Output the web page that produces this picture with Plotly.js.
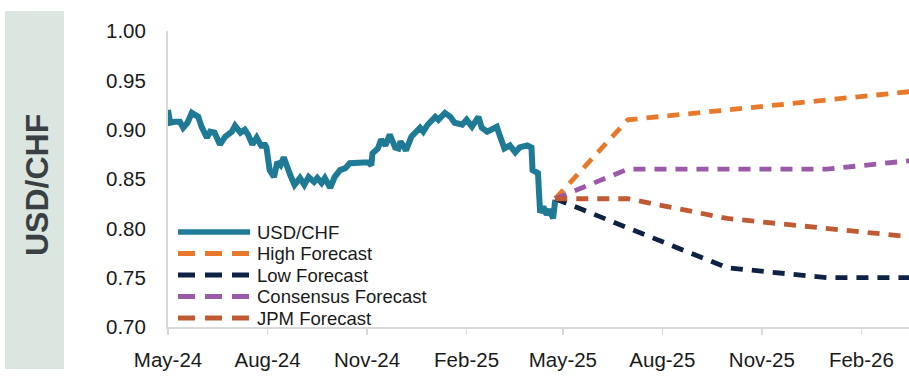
<!DOCTYPE html>
<html>
<head>
<meta charset="utf-8">
<script src="https://cdn.plot.ly/plotly-3.0.1.min.js"></script>
<style>html,body{margin:0;padding:0;background:#fff;}#chart{width:909px;height:377px;}</style>
</head>
<body>
<div id="chart"></div>
<script>
// ---- Data ----
const spotDates = ["2024-05-01","2024-05-03","2024-05-07","2024-05-12","2024-05-15","2024-05-19","2024-05-23","2024-05-29",
"2024-06-01","2024-06-06","2024-06-09","2024-06-13","2024-06-18","2024-06-23","2024-06-29",
"2024-07-02","2024-07-07","2024-07-11","2024-07-14","2024-07-18","2024-07-22","2024-07-27","2024-07-29","2024-07-31",
"2024-08-03","2024-08-07","2024-08-10","2024-08-13","2024-08-16","2024-08-19","2024-08-22","2024-08-26","2024-08-31",
"2024-09-04","2024-09-08","2024-09-13","2024-09-16","2024-09-20","2024-09-23","2024-09-28",
"2024-10-02","2024-10-07","2024-10-12","2024-10-16","2024-10-25",
"2024-11-02","2024-11-05","2024-11-06","2024-11-11","2024-11-14","2024-11-18","2024-11-22","2024-11-27","2024-11-30",
"2024-12-02","2024-12-07","2024-12-12","2024-12-16","2024-12-20","2024-12-23","2024-12-27",
"2025-01-03","2025-01-06","2025-01-12","2025-01-17","2025-01-21","2025-01-28",
"2025-02-01","2025-02-06","2025-02-12","2025-02-15","2025-02-20","2025-02-23",
"2025-03-01","2025-03-04","2025-03-08","2025-03-13","2025-03-18","2025-03-22","2025-03-29",
"2025-04-02","2025-04-03","2025-04-08","2025-04-10","2025-04-13","2025-04-16","2025-04-19","2025-04-22","2025-04-24"];
const spotValues = [0.920,0.907,0.908,0.908,0.902,0.907,0.917,0.913,
0.903,0.892,0.898,0.897,0.885,0.893,0.898,
0.904,0.897,0.900,0.895,0.885,0.892,0.882,0.886,0.882,
0.859,0.852,0.867,0.864,0.872,0.861,0.854,0.844,0.851,
0.844,0.852,0.847,0.851,0.846,0.851,0.841,
0.852,0.859,0.861,0.866,0.867,
0.867,0.864,0.876,0.881,0.890,0.884,0.895,0.882,0.881,
0.888,0.879,0.893,0.897,0.902,0.898,0.905,
0.913,0.910,0.917,0.913,0.907,0.905,
0.910,0.903,0.913,0.902,0.898,0.900,
0.903,0.893,0.881,0.884,0.877,0.882,0.884,
0.882,0.859,0.856,0.816,0.822,0.814,0.819,0.810,0.829];

const forecastDates = ["2025-04-24","2025-06-30","2025-09-30","2025-12-31","2026-03-31"];
const highForecast = [0.83,0.91,0.92,0.93,0.94];
const lowForecast = [0.83,0.80,0.76,0.75,0.75];
const consensusForecast = [0.83,0.86,0.86,0.86,0.87];
const jpmForecast = [0.83,0.83,0.81,0.80,0.79];

const seriesNames = ["USD/CHF","High Forecast","Low Forecast","Consensus Forecast","JPM Forecast"];
const yTitle = "USD/CHF";

// ---- Styles ----
const colors = ["#1F7A96","#E8792B","#0E2245","#9B59AA","#BF5A32"];
const FONT = "Arial, 'Liberation Sans', sans-serif";

const traces = [
  {x: spotDates, y: spotValues, name: seriesNames[0], mode: "lines",
   line: {color: colors[0], width: 6}},
  {x: forecastDates, y: highForecast, name: seriesNames[1], mode: "lines",
   line: {color: colors[1], width: 4.8, dash: "12px,9px"}},
  {x: forecastDates, y: lowForecast, name: seriesNames[2], mode: "lines",
   line: {color: colors[2], width: 4.8, dash: "12px,9px"}},
  {x: forecastDates, y: consensusForecast, name: seriesNames[3], mode: "lines",
   line: {color: colors[3], width: 4.8, dash: "12px,9px"}},
  {x: forecastDates, y: jpmForecast, name: seriesNames[4], mode: "lines",
   line: {color: colors[4], width: 4.8, dash: "12px,9px"}}
].map(t => Object.assign(t, {showlegend: false, hoverinfo: "x+y"}));

// Manual legend (shapes + annotations in paper coords)
const plotW = 741, plotH = 296, plotL = 168, plotB = 327;
const px2x = p => (p - plotL) / plotW;
const py2y = p => (plotB - p) / plotH;
const shapes = [
  {type: "rect", xref: "paper", yref: "paper", x0: px2x(5), x1: px2x(64), y0: py2y(369), y1: py2y(11),
   fillcolor: "#DAE6DF", line: {width: 0}, layer: "below"}
];
const annotations = [
  {xref: "paper", yref: "paper", x: px2x(37), y: py2y(185), text: "<b>" + yTitle + "</b>", textangle: -90,
   showarrow: false, xanchor: "center", yanchor: "middle",
   font: {family: FONT, size: 32, color: "#3A3F43"}}
];
const legendRows = [232, 253.5, 275, 296.5, 318];
seriesNames.forEach((nm, i) => {
  const yy = py2y(legendRows[i]);
  shapes.push({type: "line", xref: "paper", yref: "paper", x0: px2x(178), x1: px2x(250), y0: yy, y1: yy,
    line: {color: colors[i], width: i === 0 ? 5.5 : 4.8, dash: i === 0 ? "solid" : "17px,10px"}});
  annotations.push({xref: "paper", yref: "paper", x: px2x(255), y: yy, text: nm, showarrow: false,
    xanchor: "left", yanchor: "middle", font: {family: FONT, size: 18.5, color: "#1A1A1A"}});
});

const layout = {
  width: 909, height: 377,
  margin: {l: 168, r: 0, t: 31, b: 50, pad: 0},
  paper_bgcolor: "#FFFFFF", plot_bgcolor: "#FFFFFF",
  font: {family: FONT, color: "#1A1A1A"},
  showlegend: false,
  xaxis: {
    type: "date", range: ["2024-05-01", "2026-03-17"],
    tick0: "2024-05-01", dtick: "M3", tickformat: "%b-%y",
    ticks: "outside", ticklen: 6, tickcolor: "#D9D9D9", tickwidth: 1.5,
    showline: true, linecolor: "#D9D9D9", linewidth: 2,
    showgrid: false, zeroline: false,
    tickfont: {family: FONT, size: 20.5, color: "#1A1A1A"},
    ticklabelstandoff: 7
  },
  yaxis: {
    range: [0.70, 1.00], dtick: 0.05, tick0: 0.70, tickformat: ".2f",
    ticks: "", showline: true, linecolor: "#D9D9D9", linewidth: 2,
    showgrid: false, zeroline: false,
    tickfont: {family: FONT, size: 20.5, color: "#1A1A1A"},
    ticklabelstandoff: 16
  },
  shapes: shapes,
  annotations: annotations
};

Plotly.newPlot("chart", traces, layout, {displayModeBar: false, staticPlot: true});
</script>
</body>
</html>
